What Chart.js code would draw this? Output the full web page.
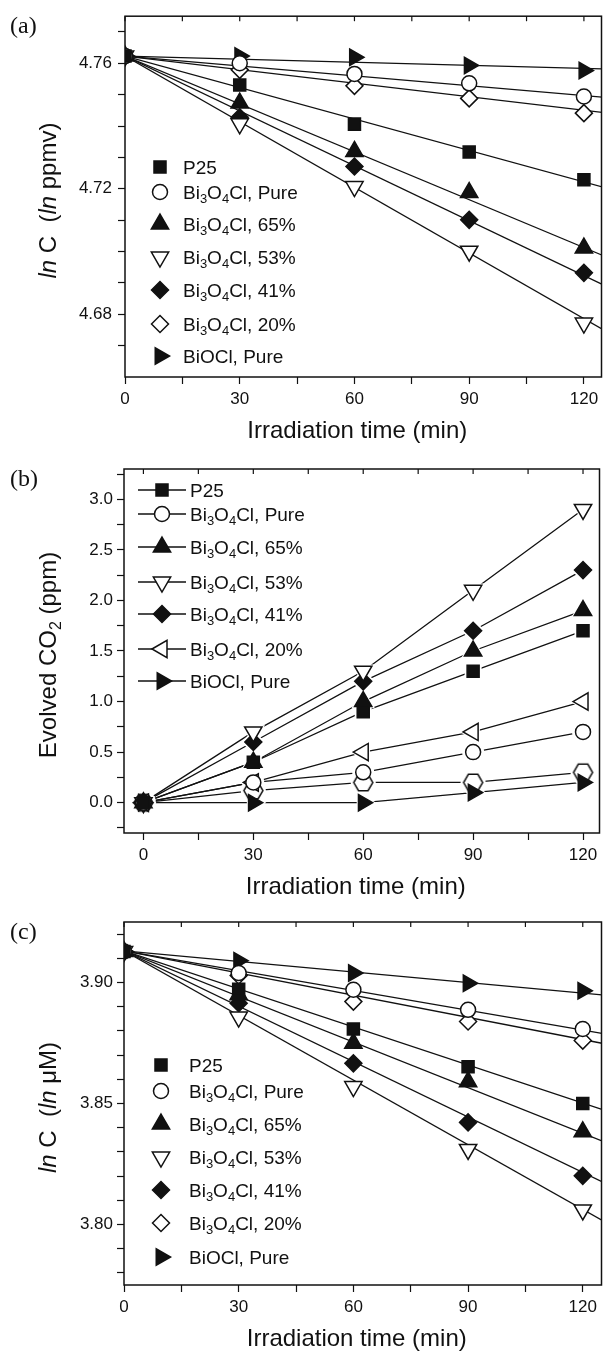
<!DOCTYPE html>
<html>
<head>
<meta charset="utf-8">
<title>Photocatalytic degradation, Bi3O4Cl / BiOCl / P25</title>
<script src="https://cdn.jsdelivr.net/npm/chart.js@4/dist/chart.umd.min.js"></script>
<style>
  body { margin: 0; background: #fff; width: 613px; height: 1353px; position: relative; overflow: hidden; }
  .panel { position: absolute; left: 0; width: 613px; }
</style>
</head>
<body>
<div class="panel" style="top:0;height:445px"><canvas id="chartA"></canvas></div>
<div class="panel" style="top:445px;height:460px"><canvas id="chartB"></canvas></div>
<div class="panel" style="top:905px;height:448px"><canvas id="chartC"></canvas></div>
<script>
// ---- data ----
var times = [0, 30, 60, 90, 120];            // irradiation time (min)
var fitX = [0, 125];                         // x range the fitted lines span

var seriesLabels = ['P25', 'Bi₃O₄Cl, Pure', 'Bi₃O₄Cl, 65%', 'Bi₃O₄Cl, 53%', 'Bi₃O₄Cl, 41%', 'Bi₃O₄Cl, 20%', 'BiOCl, Pure'];

// (a) ln C (ln ppmv)
var aP25   = [4.7623, 4.7531, 4.7406, 4.7317, 4.7229];
var aPure  = [4.7623, 4.7600, 4.7566, 4.7536, 4.7494];
var a65    = [4.7623, 4.7473, 4.7319, 4.7188, 4.7011];
var a53    = [4.7623, 4.7407, 4.7207, 4.7001, 4.6772];
var a41    = [4.7623, 4.7428, 4.7271, 4.7101, 4.6932];
var a20    = [4.7623, 4.7579, 4.7528, 4.7488, 4.7441];
var aBiOCl = [4.7623, 4.7623, 4.7619, 4.7593, 4.7577];
var aFitAt0   = [4.7623, 4.7623, 4.7623, 4.7623, 4.7623, 4.7623, 4.7623];
var aFitAt125 = [4.7205, 4.7492, 4.6987, 4.6751, 4.6894, 4.7443, 4.7582];

// (b) evolved CO2 (ppm)
var bP25   = [0, 0.4, 0.9, 1.3, 1.7];
var bPure  = [0, 0.2, 0.3, 0.5, 0.7];
var b65    = [0, 0.4, 1.0, 1.5, 1.9];
var b53    = [0, 0.7, 1.3, 2.1, 2.9];
var b41    = [0, 0.6, 1.2, 1.7, 2.3];
var b20    = [0, 0.2, 0.5, 0.7, 1.0];
var bBiOCl = [0, 0, 0, 0.1, 0.2];
var bExtra = [0, 0.12, 0.2, 0.2, 0.3];       // open hexagons, no legend entry

// (c) ln C (ln uM)
var cP25   = [3.9128, 3.8972, 3.8808, 3.8652, 3.8500];
var cPure  = [3.9128, 3.9039, 3.8970, 3.8887, 3.8808];
var c65    = [3.9128, 3.8949, 3.8749, 3.8590, 3.8383];
var c53    = [3.9128, 3.8857, 3.8570, 3.8310, 3.8060];
var c41    = [3.9128, 3.8914, 3.8666, 3.8422, 3.8201];
var c20    = [3.9128, 3.9029, 3.8921, 3.8839, 3.8760];
var cBiOCl = [3.9128, 3.9090, 3.9039, 3.8997, 3.8966];
var cFitAt0   = [3.9131, 3.9131, 3.9131, 3.9131, 3.9131, 3.9131, 3.9131];
var cFitAt125 = [3.8476, 3.8790, 3.8345, 3.8018, 3.8177, 3.8749, 3.8949];

// ticks
var xTicks = [0, 15, 30, 45, 60, 75, 90, 105, 120];
var xLabelled = [0, 30, 60, 90, 120];
var aTicks = [4.67, 4.68, 4.69, 4.70, 4.71, 4.72, 4.73, 4.74, 4.75, 4.76, 4.77];
var aLabelled = [4.68, 4.72, 4.76];
var bTicks = [-0.25, 0, 0.25, 0.5, 0.75, 1.0, 1.25, 1.5, 1.75, 2.0, 2.25, 2.5, 2.75, 3.0, 3.25];
var bLabelled = [0, 0.5, 1.0, 1.5, 2.0, 2.5, 3.0];
var cTicks = [3.78, 3.79, 3.80, 3.81, 3.82, 3.83, 3.84, 3.85, 3.86, 3.87, 3.88, 3.89, 3.90, 3.91, 3.92];
var cLabelled = [3.80, 3.85, 3.90];

// ---- styling ----
var FONT = "'Liberation Sans', Arial, sans-serif";
var SERIF = "'Liberation Serif', 'Times New Roman', serif";
var INK = '#111';
var SUB = '₀₁₂₃₄₅₆₇₈₉';

function hexCanvas(r, lw) {
  var s = Math.ceil(2 * r + lw + 2);
  var c = document.createElement('canvas');
  c.width = s; c.height = s;
  var g = c.getContext('2d');
  g.beginPath();
  for (var k = 0; k < 6; k++) {
    var a = k * Math.PI / 3;
    var px = s / 2 + r * Math.cos(a), py = s / 2 + r * Math.sin(a);
    if (k) g.lineTo(px, py); else g.moveTo(px, py);
  }
  g.closePath();
  g.fillStyle = '#fff'; g.fill();
  g.lineWidth = lw; g.strokeStyle = INK; g.stroke();
  return c;
}

var marks = [
  {style: 'rect', rot: 0, r: 8.5, fill: true},
  {style: 'circle', rot: 0, r: 7.5, fill: false},
  {style: 'triangle', rot: 0, r: 10, fill: true},
  {style: 'triangle', rot: 180, r: 10, fill: false},
  {style: 'rectRot', rot: 0, r: 8.5, fill: true},
  {style: 'rectRot', rot: 0, r: 8.5, fill: false},
  {style: 'triangle', rot: 90, r: 9.5, fill: true}
];
var marksB = marks.slice();
marksB[5] = {style: 'triangle', rot: 270, r: 10, fill: false};
var hexMark = {style: 'circle', img: hexCanvas(9.5, 1.5), rot: 0, r: 9, fill: false};

function inList(list, v) {
  return list.some(function(l) { return Math.abs(l - v) < 1e-9; });
}

function markerSet(vals, m, order) {
  return {
    data: times.map(function(t, j) { return {x: t, y: vals[j]}; }),
    showLine: false,
    pointStyle: m.img || m.style,
    pointRotation: m.rot,
    pointRadius: m.r,
    pointBackgroundColor: m.fill ? INK : '#fff',
    pointBorderColor: INK,
    pointBorderWidth: 1.5,
    order: order
  };
}
function haloSet(vals, m) {
  return {
    data: times.map(function(t, j) { return {x: t, y: vals[j]}; }),
    showLine: false,
    pointStyle: m.img ? 'circle' : m.style,
    pointRotation: m.rot,
    pointRadius: m.r + 3.5,
    pointBackgroundColor: '#fff',
    pointBorderColor: '#fff',
    pointBorderWidth: 0,
    order: 2
  };
}
function lineSet(points) {
  return {
    data: points,
    showLine: true,
    pointRadius: 0,
    borderColor: INK,
    borderWidth: 1.3,
    tension: 0,
    order: 3
  };
}

// text with subscripts / italics, drawn on the canvas
function segments(runs) {
  var out = [];
  runs.forEach(function(r) {
    var buf = '', sub = false;
    for (var ch of r.t) {
      var k = SUB.indexOf(ch), isSub = k >= 0;
      if (buf && isSub !== sub) { out.push({t: buf, sub: sub, it: r.it}); buf = ''; }
      sub = isSub;
      buf += isSub ? String(k) : ch;
    }
    if (buf) out.push({t: buf, sub: sub, it: r.it});
  });
  return out;
}
function fontFor(s, size) {
  return (s.it ? 'italic ' : '') + (s.sub ? Math.round(size * 0.68) : size) + 'px ' + FONT;
}
function drawRich(ctx, runs, x, y, size, center) {
  var segs = segments(runs), w = 0;
  segs.forEach(function(s) { ctx.font = fontFor(s, size); s.w = ctx.measureText(s.t).width; w += s.w; });
  var cx = center ? x - w / 2 : x;
  ctx.textAlign = 'left';
  ctx.textBaseline = 'alphabetic';
  ctx.fillStyle = INK;
  segs.forEach(function(s) {
    ctx.font = fontFor(s, size);
    ctx.fillText(s.t, cx, y + (s.sub ? size * 0.22 : 0));
    cx += s.w;
  });
}

function drawMarker(ctx, m, x, y) {
  var r = m.r;
  ctx.beginPath();
  if (m.style === 'circle') {
    ctx.arc(x, y, r, 0, 2 * Math.PI);
  } else if (m.style === 'rect') {
    var s = r * Math.SQRT1_2;
    ctx.rect(x - s, y - s, 2 * s, 2 * s);
  } else if (m.style === 'rectRot') {
    ctx.moveTo(x - r, y); ctx.lineTo(x, y - r); ctx.lineTo(x + r, y); ctx.lineTo(x, y + r); ctx.closePath();
  } else {
    var a = m.rot * Math.PI / 180;
    for (var k = 0; k < 3; k++) {
      var px = x + Math.sin(a) * r, py = y - Math.cos(a) * r;
      if (k) ctx.lineTo(px, py); else ctx.moveTo(px, py);
      a += 2 * Math.PI / 3;
    }
    ctx.closePath();
  }
  ctx.fillStyle = m.fill ? INK : '#fff';
  ctx.fill();
  ctx.lineWidth = 1.5;
  ctx.strokeStyle = INK;
  ctx.stroke();
}

// frame, top ticks, panel letter, axis titles and legend
function decorations(p) {
  return {
    id: 'decor',
    afterDraw: function(chart) {
      var ctx = chart.ctx, ca = chart.chartArea, xs = chart.scales.x;
      ctx.save();
      ctx.strokeStyle = INK;
      ctx.lineWidth = 1.5;
      ctx.strokeRect(ca.left, ca.top, ca.right - ca.left, ca.bottom - ca.top);
      ctx.lineWidth = 1.2;
      xTicks.forEach(function(v) {
        var px = xs.getPixelForValue(v);
        ctx.beginPath(); ctx.moveTo(px, ca.top); ctx.lineTo(px, ca.top + 5); ctx.stroke();
      });

      ctx.fillStyle = INK;
      ctx.font = '24px ' + SERIF;
      ctx.textAlign = 'left';
      ctx.textBaseline = 'middle';
      ctx.fillText(p.letter, 10, ca.top + 11);

      drawRich(ctx, p.xTitle, (ca.left + ca.right) / 2 - 6, ca.bottom + 61, 24, true);
      ctx.save();
      ctx.translate(48, (ca.top + ca.bottom) / 2 + 4);
      ctx.rotate(-Math.PI / 2);
      drawRich(ctx, p.yTitle, 0, 8, 24, true);
      ctx.restore();

      p.legendRows.forEach(function(ry, i) {
        var m = p.legendMarks[i];
        if (p.legendLines) {
          ctx.strokeStyle = INK; ctx.lineWidth = 1.4;
          ctx.beginPath();
          ctx.moveTo(p.legendMarkX - 24, ry); ctx.lineTo(p.legendMarkX + 24, ry);
          ctx.stroke();
        }
        drawMarker(ctx, m, p.legendMarkX, ry);
        drawRich(ctx, [{t: seriesLabels[i]}], p.legendTextX, ry + 7, 19, false);
      });
      ctx.restore();
    }
  };
}

function axis(min, max, ticks, labelled, fmt, width, height, pad) {
  var s = {
    type: 'linear',
    min: min,
    max: max,
    afterBuildTicks: function(sc) { sc.ticks = ticks.map(function(v) { return {value: v}; }); },
    ticks: {
      autoSkip: false,
      maxRotation: 0,
      padding: pad,
      color: INK,
      font: {family: FONT, size: 17},
      callback: function(v) { return inList(labelled, v) ? fmt(v) : ''; }
    },
    grid: {drawOnChartArea: false, drawTicks: true, tickLength: 7, tickColor: INK, tickWidth: 1.2},
    border: {display: false}
  };
  if (width) s.afterFit = function(sc) { sc.width = width; };
  if (height) s.afterFit = function(sc) { sc.height = height; };
  return s;
}

function makeChart(id, datasets, p) {
  return new Chart(document.getElementById(id), {
    type: 'scatter',
    data: {datasets: datasets},
    options: {
      responsive: true,
      maintainAspectRatio: false,
      animation: false,
      events: [],
      layout: {padding: {top: p.padTop, right: 2, left: 0, bottom: 0}},
      plugins: {legend: {display: false}, tooltip: {enabled: false}},
      scales: {
        x: axis(p.xMin, p.xMax, xTicks, xLabelled, function(v) { return String(v); }, 0, p.xHeight, 5),
        y: axis(p.yMin, p.yMax, p.yTicks, p.yLabelled, p.yFmt, p.yWidth, 0, p.yPad)
      }
    },
    plugins: [decorations(p)]
  });
}

var lnTitle = function(unit) {
  return [{t: 'ln', it: true}, {t: ' C  ('}, {t: 'ln', it: true}, {t: ' ' + unit + ')'}];
};

// (a)
var aSeries = [aP25, aPure, a65, a53, a41, a20, aBiOCl];
var aSets = [];
aSeries.forEach(function(vals, i) {
  aSets.push(lineSet([{x: fitX[0], y: aFitAt0[i]}, {x: fitX[1], y: aFitAt125[i]}]));
  aSets.push(markerSet(vals, marks[i], 0));
});
makeChart('chartA', aSets, {
  letter: '(a)', padTop: 16, xHeight: 68, yWidth: 125, yPad: 6,
  xMin: 0, xMax: 124.6, yMin: 4.66, yMax: 4.775,
  yTicks: aTicks, yLabelled: aLabelled, yFmt: function(v) { return v.toFixed(2); },
  xTitle: [{t: 'Irradiation time (min)'}],
  yTitle: lnTitle('ppmv'),
  legendRows: [167, 192, 224, 257, 290, 324, 356], legendMarks: marks,
  legendMarkX: 160, legendTextX: 183, legendLines: false
});

// (b)
var bSeries = [bP25, bPure, b65, b53, b41, b20, bBiOCl, bExtra];
var bMarks = marksB.concat([hexMark]);
var bSets = [];
bSeries.forEach(function(vals, i) {
  bSets.push(lineSet(times.map(function(t, j) { return {x: t, y: vals[j]}; })));
  bSets.push(haloSet(vals, bMarks[i]));
  bSets.push(markerSet(vals, bMarks[i], 0));
});
makeChart('chartB', bSets, {
  letter: '(b)', padTop: 24, xHeight: 72, yWidth: 124, yPad: 4,
  xMin: -5.3, xMax: 124.5, yMin: -0.3, yMax: 3.3,
  yTicks: bTicks, yLabelled: bLabelled, yFmt: function(v) { return v.toFixed(1); },
  xTitle: [{t: 'Irradiation time (min)'}],
  yTitle: [{t: 'Evolved CO₂ (ppm)'}],
  legendRows: [45, 69, 102, 137, 169, 204, 236], legendMarks: marksB,
  legendMarkX: 162, legendTextX: 190, legendLines: true
});

// (c)
var cSeries = [cP25, cPure, c65, c53, c41, c20, cBiOCl];
var cSets = [];
cSeries.forEach(function(vals, i) {
  cSets.push(lineSet([{x: fitX[0], y: cFitAt0[i]}, {x: fitX[1], y: cFitAt125[i]}]));
  cSets.push(markerSet(vals, marks[i], 0));
});
makeChart('chartC', cSets, {
  letter: '(c)', padTop: 17, xHeight: 68, yWidth: 124, yPad: 4,
  xMin: 0, xMax: 124.9, yMin: 3.775, yMax: 3.925,
  yTicks: cTicks, yLabelled: cLabelled, yFmt: function(v) { return v.toFixed(2); },
  xTitle: [{t: 'Irradiation time (min)'}],
  yTitle: lnTitle('μM'),
  legendRows: [160, 186, 219, 252, 285, 318, 352], legendMarks: marks,
  legendMarkX: 161, legendTextX: 189, legendLines: false
});
</script>
</body>
</html>
